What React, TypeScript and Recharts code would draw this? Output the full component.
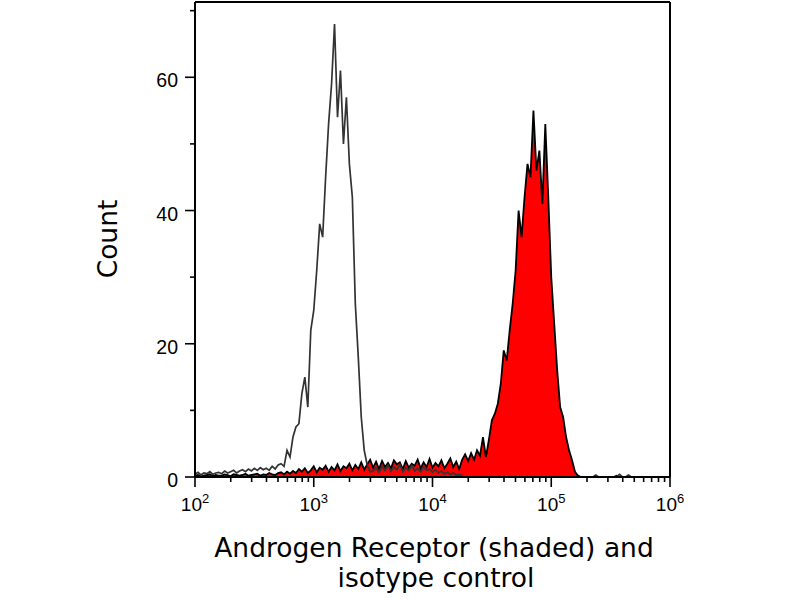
import React from "react";
import { ComposedChart, Area, Line, XAxis, YAxis, ReferenceLine } from "recharts";

// Histogram bin centres, in log10 of fluorescence intensity
const bins = [
  2.0, 2.025, 2.05, 2.075, 2.1, 2.125, 2.15, 2.175,
  2.2, 2.225, 2.25, 2.275, 2.3, 2.325, 2.35, 2.375,
  2.4, 2.425, 2.45, 2.475, 2.5, 2.525, 2.55, 2.575,
  2.6, 2.625, 2.65, 2.675, 2.7, 2.725, 2.75, 2.775,
  2.8, 2.825, 2.85, 2.875, 2.9, 2.925, 2.95, 2.975,
  3.0, 3.025, 3.05, 3.075, 3.1, 3.125, 3.15, 3.175,
  3.2, 3.225, 3.25, 3.275, 3.3, 3.325, 3.35, 3.375,
  3.4, 3.425, 3.45, 3.475, 3.5, 3.525, 3.55, 3.575,
  3.6, 3.625, 3.65, 3.675, 3.7, 3.725, 3.75, 3.775,
  3.8, 3.825, 3.85, 3.875, 3.9, 3.925, 3.95, 3.975,
  4.0, 4.025, 4.05, 4.075, 4.1, 4.125, 4.15, 4.175,
  4.2, 4.225, 4.25, 4.275, 4.3, 4.325, 4.35, 4.375,
  4.4, 4.425, 4.45, 4.475, 4.5, 4.525, 4.55, 4.575,
  4.6, 4.625, 4.65, 4.675, 4.7, 4.725, 4.75, 4.775,
  4.8, 4.825, 4.85, 4.875, 4.9, 4.925, 4.95, 4.975,
  5.0, 5.025, 5.05, 5.075, 5.1, 5.125, 5.15, 5.175,
  5.2, 5.225, 5.25, 5.275, 5.3, 5.325, 5.35, 5.375,
  5.4, 5.425, 5.45, 5.475, 5.5, 5.525, 5.55, 5.575,
  5.6, 5.625, 5.65, 5.675, 5.7, 5.725, 5.75, 5.775,
  5.8, 5.825, 5.85, 5.875, 5.9, 5.925, 5.95, 5.975,
  6.0,
];

// Isotype control counts (open outline)
const isotype = [
  0.4, 0.7, 0.3, 0.6, 0.5, 0.8, 0.4, 0.6,
  0.7, 0.5, 0.9, 0.6, 0.8, 1.0, 0.6, 0.9,
  1.1, 0.8, 1.2, 0.9, 1.3, 1.0, 1.4, 1.1,
  1.3, 1.0, 1.6, 1.2, 1.8, 2.0, 1.6, 4.0,
  3.0, 6.0, 7.5, 8, 12.5, 15, 10.5, 22,
  25, 31, 38, 36, 45, 53, 59, 68,
  54, 61, 50, 57, 47, 42, 26, 18,
  9, 4, 1.8, 0.8, 0.9, 1.4, 0.7, 1.6,
  1.0, 1.8, 0.9, 1.5, 1.1, 1.9, 0.8, 1.4,
  1.0, 1.7, 0.9, 1.3, 0.8, 1.5, 1.0, 1.2,
  0.7, 1.1, 0.6, 0.9, 0.5, 0.7, 0.4, 0.6,
  0.3, 0.4, 0.2, 0, 0, 0, 0, 0,
  0, 0, 0, 0, 0, 0, 0, 0,
  0, 0, 0, 0, 0, 0, 0, 0,
  0, 0, 0, 0, 0, 0, 0, 0,
  0, 0, 0, 0, 0, 0, 0, 0,
  0, 0, 0, 0, 0, 0, 0, 0.3,
  0, 0, 0, 0, 0, 0, 0, 0.4,
  0, 0, 0.3, 0, 0, 0, 0, 0,
  0, 0, 0, 0, 0, 0, 0, 0,
  0,
];

// Androgen Receptor counts (shaded)
const androgen = [
  0.2, 0.3, 0.1, 0.2, 0.3, 0.4, 0.1, 0.3,
  0.2, 0.2, 0.4, 0.3, 0.1, 0.4, 0.3, 0.2,
  0.3, 0.5, 0.2, 0.3, 0.4, 0.5, 0.2, 0.4,
  0.3, 0.6, 0.4, 0.3, 0.6, 0.7, 0.4, 0.8,
  0.5, 0.9, 0.6, 1.2, 0.8, 1.3, 0.6, 1.0,
  1.6, 0.7, 1.4, 1.1, 1.7, 0.8, 1.5, 1.0,
  1.9, 0.9, 1.6, 1.3, 2.0, 1.0, 1.8, 1.2,
  2.2, 1.1, 1.9, 2.6, 1.4, 2.3, 1.2, 2.4,
  1.5, 2.1, 1.3, 2.5, 1.9, 2.2, 1.2, 2.4,
  1.4, 2.0, 1.7, 2.6, 1.3, 2.2, 1.5, 2.7,
  1.4, 2.1, 1.6, 2.5, 1.3, 2.0, 2.8, 1.5,
  2.3, 1.2, 2.6, 3.4, 2.4, 3.6, 2.6, 4.0,
  3.2, 6.0, 3.0, 5.6, 8.5, 9.5, 11, 14,
  19, 17.5, 22, 26, 31, 40, 36, 42,
  47, 45, 55, 46, 49, 41, 53, 42,
  30, 23, 16, 10.5, 9, 6, 4, 2.5,
  0.8, 0.2, 0, 0, 0, 0, 0, 0,
  0, 0, 0, 0, 0, 0, 0.2, 0,
  0, 0, 0, 0, 0, 0, 0, 0,
  0, 0, 0, 0, 0, 0, 0, 0,
  0,
];

const xDecades = [2, 3, 4, 5, 6];
const xExponentLabels = ["2", "3", "4", "5", "6"];
const yTicks = [0, 10, 20, 30, 40, 50, 60, 70];
const yLabelled = [0, 20, 40, 60];
const Y_MAX = 71.3;

const data = bins.map((x, i) => ({ x, iso: isotype[i], ar: androgen[i] }));

const minorX: number[] = [];
for (let d = 2; d < 6; d++) {
  for (let k = 2; k <= 9; k++) minorX.push(d + Math.log10(k));
}
const xTicks = [...xDecades, ...minorX].sort((a, b) => a - b);

const TICK_FONT = "'Liberation Sans', Arial, sans-serif";
const TITLE_FONT = "'DejaVu Sans', Verdana, sans-serif";

const XTick = (props: any) => {
  const { x, y, payload } = props;
  const v = payload.value as number;
  const idx = xDecades.findIndex((d) => Math.abs(d - v) < 1e-9);
  const major = idx >= 0;
  return (
    <g>
      <line x1={x} x2={x} y1={y} y2={y + (major ? 10 : 5)} stroke="#000" strokeWidth={1.6} />
      {major && (
        <text x={x} y={y + 34} textAnchor="middle" fontFamily={TICK_FONT} fontSize={19} fill="#000">
          <tspan>10</tspan>
          <tspan dy={-8} fontSize={13}>{xExponentLabels[idx]}</tspan>
        </text>
      )}
    </g>
  );
};

const YTick = (props: any) => {
  const { x, y, payload } = props;
  const v = payload.value as number;
  const major = yLabelled.includes(v);
  return (
    <g>
      <line x1={x - (major ? 10 : 5)} x2={x} y1={y} y2={y} stroke="#000" strokeWidth={1.6} />
      {major && (
        <text x={x - 17} y={y + 10} textAnchor="end" fontFamily={TICK_FONT} fontSize={19.5} fill="#000">
          {String(v)}
        </text>
      )}
    </g>
  );
};

const XTitle = () => (
  <g>
    <text x={434} y={557} textAnchor="middle" fontFamily={TITLE_FONT} fontSize={26.5} fill="#000">
      Androgen Receptor (shaded) and
    </text>
    <text x={436} y={587} textAnchor="middle" fontFamily={TITLE_FONT} fontSize={26.5} fill="#000">
      isotype control
    </text>
  </g>
);

const YTitle = () => (
  <text
    transform="translate(117,239) rotate(-90)"
    textAnchor="middle"
    fontFamily={TITLE_FONT}
    fontSize={26.5}
    fill="#000"
  >
    Count
  </text>
);

export default function App() {
  return (
    <div style={{ position: "absolute", left: 0, top: 0, width: 800, height: 600, background: "#fff" }}>
      <ComposedChart
        width={800}
        height={600}
        data={data}
        margin={{ top: 2, right: 130, bottom: 93, left: 135 }}
      >
        <XAxis
          type="number"
          dataKey="x"
          domain={[2, 6]}
          ticks={xTicks}
          interval={0}
          tickSize={0}
          tickMargin={0}
          tickLine={false}
          tick={<XTick />}
          axisLine={{ stroke: "#000", strokeWidth: 2 }}
          height={30}
          allowDataOverflow
          label={{ content: () => <XTitle /> }}
        />
        <YAxis
          type="number"
          domain={[0, Y_MAX]}
          ticks={yTicks}
          interval={0}
          tickSize={0}
          tickMargin={0}
          tickLine={false}
          tick={<YTick />}
          axisLine={{ stroke: "#000", strokeWidth: 2 }}
          width={60}
          allowDataOverflow
          label={{ content: () => <YTitle /> }}
        />
        <Area
          type="linear"
          dataKey="ar"
          stroke="#000"
          strokeWidth={1.8}
          fill="#ff0000"
          fillOpacity={1}
          dot={false}
          activeDot={false}
          isAnimationActive={false}
        />
        <Line
          type="linear"
          dataKey="iso"
          stroke="#333"
          strokeWidth={1.7}
          dot={false}
          activeDot={false}
          isAnimationActive={false}
        />
        <ReferenceLine y={Y_MAX} stroke="#000" strokeWidth={2} />
        <ReferenceLine x={6} stroke="#000" strokeWidth={2} />
      </ComposedChart>
    </div>
  );
}
